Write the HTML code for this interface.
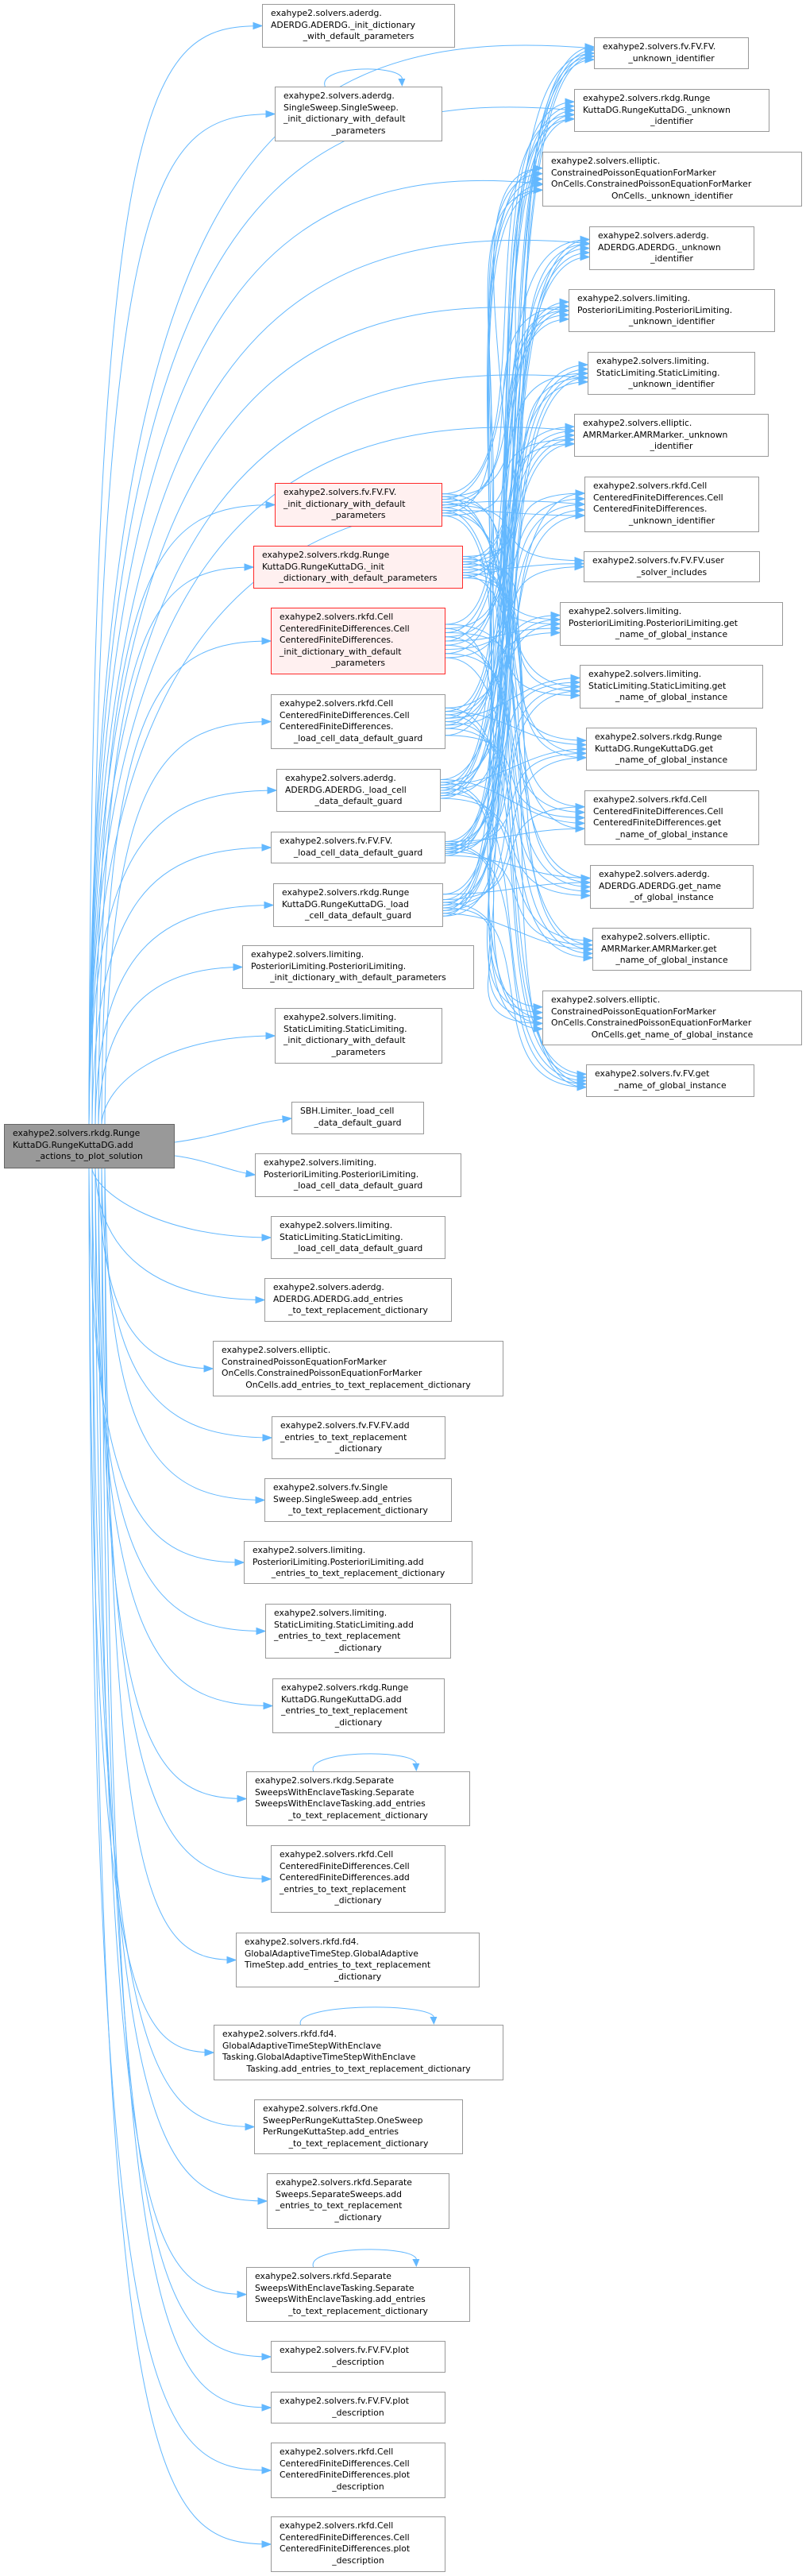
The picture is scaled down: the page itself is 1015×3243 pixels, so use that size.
<!DOCTYPE html>
<html><head><meta charset="utf-8">
<style>
html,body{margin:0;padding:0;background:#fff;}
body{width:1015px;height:3243px;position:relative;overflow:hidden;font-family:"DejaVu Sans","Liberation Sans",sans-serif;}
svg{position:absolute;left:0;top:0;}
.n{position:absolute;box-sizing:border-box;border:1.3px solid #999;background:#fff;font-size:10.8px;line-height:14.6px;color:#000;padding:4px 10px 0 10px;white-space:nowrap;}
.n div{text-align:left;}
.n div:last-child{text-align:center;}
.r{border-color:#ff2a2a;background:#fff0f0;}
.g{background:#999;border-color:#666;}
</style></head><body>
<svg id="s" width="1015" height="3243"></svg>

<div class="n g" style="left:5px;top:1415px;width:215px;height:56px"><div>exahype2.solvers.rkdg.Runge</div><div>KuttaDG.RungeKuttaDG.add</div><div>_actions_to_plot_solution</div></div>

<div class="n" style="left:330px;top:5px;width:243px;height:55px"><div>exahype2.solvers.aderdg.</div><div>ADERDG.ADERDG._init_dictionary</div><div>_with_default_parameters</div></div>
<div class="n" style="left:346px;top:109px;width:211px;height:69px"><div>exahype2.solvers.aderdg.</div><div>SingleSweep.SingleSweep.</div><div>_init_dictionary_with_default</div><div>_parameters</div></div>
<div class="n r" style="left:346px;top:608px;width:211px;height:55px"><div>exahype2.solvers.fv.FV.FV.</div><div>_init_dictionary_with_default</div><div>_parameters</div></div>
<div class="n r" style="left:319px;top:687px;width:264px;height:54px"><div>exahype2.solvers.rkdg.Runge</div><div>KuttaDG.RungeKuttaDG._init</div><div>_dictionary_with_default_parameters</div></div>
<div class="n r" style="left:341px;top:765px;width:220px;height:84px"><div>exahype2.solvers.rkfd.Cell</div><div>CenteredFiniteDifferences.Cell</div><div>CenteredFiniteDifferences.</div><div>_init_dictionary_with_default</div><div>_parameters</div></div>
<div class="n" style="left:341px;top:874px;width:220px;height:69px"><div>exahype2.solvers.rkfd.Cell</div><div>CenteredFiniteDifferences.Cell</div><div>CenteredFiniteDifferences.</div><div>_load_cell_data_default_guard</div></div>
<div class="n" style="left:348px;top:968px;width:207px;height:54px"><div>exahype2.solvers.aderdg.</div><div>ADERDG.ADERDG._load_cell</div><div>_data_default_guard</div></div>
<div class="n" style="left:341px;top:1047px;width:220px;height:40px"><div>exahype2.solvers.fv.FV.FV.</div><div>_load_cell_data_default_guard</div></div>
<div class="n" style="left:344px;top:1112px;width:214px;height:55px"><div>exahype2.solvers.rkdg.Runge</div><div>KuttaDG.RungeKuttaDG._load</div><div>_cell_data_default_guard</div></div>
<div class="n" style="left:305px;top:1190px;width:292px;height:55px"><div>exahype2.solvers.limiting.</div><div>PosterioriLimiting.PosterioriLimiting.</div><div>_init_dictionary_with_default_parameters</div></div>
<div class="n" style="left:346px;top:1269px;width:211px;height:70px"><div>exahype2.solvers.limiting.</div><div>StaticLimiting.StaticLimiting.</div><div>_init_dictionary_with_default</div><div>_parameters</div></div>
<div class="n" style="left:367px;top:1387px;width:167px;height:41px"><div>SBH.Limiter._load_cell</div><div>_data_default_guard</div></div>
<div class="n" style="left:321px;top:1452px;width:260px;height:55px"><div>exahype2.solvers.limiting.</div><div>PosterioriLimiting.PosterioriLimiting.</div><div>_load_cell_data_default_guard</div></div>
<div class="n" style="left:341px;top:1531px;width:220px;height:54px"><div>exahype2.solvers.limiting.</div><div>StaticLimiting.StaticLimiting.</div><div>_load_cell_data_default_guard</div></div>
<div class="n" style="left:333px;top:1609px;width:236px;height:55px"><div>exahype2.solvers.aderdg.</div><div>ADERDG.ADERDG.add_entries</div><div>_to_text_replacement_dictionary</div></div>
<div class="n" style="left:268px;top:1688px;width:366px;height:70px"><div>exahype2.solvers.elliptic.</div><div>ConstrainedPoissonEquationForMarker</div><div>OnCells.ConstrainedPoissonEquationForMarker</div><div>OnCells.add_entries_to_text_replacement_dictionary</div></div>
<div class="n" style="left:342px;top:1783px;width:219px;height:54px"><div>exahype2.solvers.fv.FV.FV.add</div><div>_entries_to_text_replacement</div><div>_dictionary</div></div>
<div class="n" style="left:333px;top:1861px;width:236px;height:55px"><div>exahype2.solvers.fv.Single</div><div>Sweep.SingleSweep.add_entries</div><div>_to_text_replacement_dictionary</div></div>
<div class="n" style="left:307px;top:1940px;width:288px;height:54px"><div>exahype2.solvers.limiting.</div><div>PosterioriLimiting.PosterioriLimiting.add</div><div>_entries_to_text_replacement_dictionary</div></div>
<div class="n" style="left:334px;top:2019px;width:234px;height:69px"><div>exahype2.solvers.limiting.</div><div>StaticLimiting.StaticLimiting.add</div><div>_entries_to_text_replacement</div><div>_dictionary</div></div>
<div class="n" style="left:343px;top:2113px;width:217px;height:69px"><div>exahype2.solvers.rkdg.Runge</div><div>KuttaDG.RungeKuttaDG.add</div><div>_entries_to_text_replacement</div><div>_dictionary</div></div>
<div class="n" style="left:310px;top:2230px;width:282px;height:69px"><div>exahype2.solvers.rkdg.Separate</div><div>SweepsWithEnclaveTasking.Separate</div><div>SweepsWithEnclaveTasking.add_entries</div><div>_to_text_replacement_dictionary</div></div>
<div class="n" style="left:341px;top:2323px;width:220px;height:85px"><div>exahype2.solvers.rkfd.Cell</div><div>CenteredFiniteDifferences.Cell</div><div>CenteredFiniteDifferences.add</div><div>_entries_to_text_replacement</div><div>_dictionary</div></div>
<div class="n" style="left:297px;top:2433px;width:307px;height:69px"><div>exahype2.solvers.rkfd.fd4.</div><div>GlobalAdaptiveTimeStep.GlobalAdaptive</div><div>TimeStep.add_entries_to_text_replacement</div><div>_dictionary</div></div>
<div class="n" style="left:269px;top:2549px;width:365px;height:70px"><div>exahype2.solvers.rkfd.fd4.</div><div>GlobalAdaptiveTimeStepWithEnclave</div><div>Tasking.GlobalAdaptiveTimeStepWithEnclave</div><div>Tasking.add_entries_to_text_replacement_dictionary</div></div>
<div class="n" style="left:320px;top:2643px;width:263px;height:69px"><div>exahype2.solvers.rkfd.One</div><div>SweepPerRungeKuttaStep.OneSweep</div><div>PerRungeKuttaStep.add_entries</div><div>_to_text_replacement_dictionary</div></div>
<div class="n" style="left:336px;top:2736px;width:230px;height:70px"><div>exahype2.solvers.rkfd.Separate</div><div>Sweeps.SeparateSweeps.add</div><div>_entries_to_text_replacement</div><div>_dictionary</div></div>
<div class="n" style="left:310px;top:2854px;width:282px;height:69px"><div>exahype2.solvers.rkfd.Separate</div><div>SweepsWithEnclaveTasking.Separate</div><div>SweepsWithEnclaveTasking.add_entries</div><div>_to_text_replacement_dictionary</div></div>
<div class="n" style="left:341px;top:2947px;width:220px;height:40px"><div>exahype2.solvers.fv.FV.FV.plot</div><div>_description</div></div>
<div class="n" style="left:341px;top:3011px;width:220px;height:40px"><div>exahype2.solvers.fv.FV.FV.plot</div><div>_description</div></div>
<div class="n" style="left:341px;top:3075px;width:220px;height:70px"><div>exahype2.solvers.rkfd.Cell</div><div>CenteredFiniteDifferences.Cell</div><div>CenteredFiniteDifferences.plot</div><div>_description</div></div>
<div class="n" style="left:341px;top:3168px;width:220px;height:70px"><div>exahype2.solvers.rkfd.Cell</div><div>CenteredFiniteDifferences.Cell</div><div>CenteredFiniteDifferences.plot</div><div>_description</div></div>

<div class="n" style="left:748px;top:47px;width:195px;height:40px"><div>exahype2.solvers.fv.FV.FV.</div><div>_unknown_identifier</div></div>
<div class="n" style="left:723px;top:112px;width:246px;height:54px"><div>exahype2.solvers.rkdg.Runge</div><div>KuttaDG.RungeKuttaDG._unknown</div><div>_identifier</div></div>
<div class="n" style="left:683px;top:191px;width:327px;height:69px"><div>exahype2.solvers.elliptic.</div><div>ConstrainedPoissonEquationForMarker</div><div>OnCells.ConstrainedPoissonEquationForMarker</div><div>OnCells._unknown_identifier</div></div>
<div class="n" style="left:742px;top:285px;width:208px;height:55px"><div>exahype2.solvers.aderdg.</div><div>ADERDG.ADERDG._unknown</div><div>_identifier</div></div>
<div class="n" style="left:716px;top:364px;width:260px;height:54px"><div>exahype2.solvers.limiting.</div><div>PosterioriLimiting.PosterioriLimiting.</div><div>_unknown_identifier</div></div>
<div class="n" style="left:740px;top:443px;width:211px;height:54px"><div>exahype2.solvers.limiting.</div><div>StaticLimiting.StaticLimiting.</div><div>_unknown_identifier</div></div>
<div class="n" style="left:723px;top:521px;width:245px;height:54px"><div>exahype2.solvers.elliptic.</div><div>AMRMarker.AMRMarker._unknown</div><div>_identifier</div></div>
<div class="n" style="left:736px;top:600px;width:220px;height:70px"><div>exahype2.solvers.rkfd.Cell</div><div>CenteredFiniteDifferences.Cell</div><div>CenteredFiniteDifferences.</div><div>_unknown_identifier</div></div>
<div class="n" style="left:735px;top:694px;width:222px;height:39px"><div>exahype2.solvers.fv.FV.FV.user</div><div>_solver_includes</div></div>
<div class="n" style="left:705px;top:758px;width:281px;height:55px"><div>exahype2.solvers.limiting.</div><div>PosterioriLimiting.PosterioriLimiting.get</div><div>_name_of_global_instance</div></div>
<div class="n" style="left:730px;top:837px;width:231px;height:55px"><div>exahype2.solvers.limiting.</div><div>StaticLimiting.StaticLimiting.get</div><div>_name_of_global_instance</div></div>
<div class="n" style="left:738px;top:916px;width:215px;height:54px"><div>exahype2.solvers.rkdg.Runge</div><div>KuttaDG.RungeKuttaDG.get</div><div>_name_of_global_instance</div></div>
<div class="n" style="left:736px;top:995px;width:220px;height:69px"><div>exahype2.solvers.rkfd.Cell</div><div>CenteredFiniteDifferences.Cell</div><div>CenteredFiniteDifferences.get</div><div>_name_of_global_instance</div></div>
<div class="n" style="left:743px;top:1089px;width:206px;height:55px"><div>exahype2.solvers.aderdg.</div><div>ADERDG.ADERDG.get_name</div><div>_of_global_instance</div></div>
<div class="n" style="left:746px;top:1168px;width:200px;height:54px"><div>exahype2.solvers.elliptic.</div><div>AMRMarker.AMRMarker.get</div><div>_name_of_global_instance</div></div>
<div class="n" style="left:683px;top:1247px;width:327px;height:69px"><div>exahype2.solvers.elliptic.</div><div>ConstrainedPoissonEquationForMarker</div><div>OnCells.ConstrainedPoissonEquationForMarker</div><div>OnCells.get_name_of_global_instance</div></div>
<div class="n" style="left:738px;top:1340px;width:212px;height:41px"><div>exahype2.solvers.fv.FV.get</div><div>_name_of_global_instance</div></div>

<script>
var L=[[330,5,573,60],[346,109,557,178,1],[346,608,557,663],[319,687,583,741],[341,765,561,849],[341,874,561,943],[348,968,555,1022],[341,1047,561,1087],[344,1112,558,1167],[305,1190,597,1245],[346,1269,557,1339],[367,1387,534,1428,1],[321,1452,581,1507],[341,1531,561,1585],[333,1609,569,1664],[268,1688,634,1758],[342,1783,561,1837],[333,1861,569,1916],[307,1940,595,1994],[334,2019,568,2088],[343,2113,560,2182],[310,2230,592,2299,1],[341,2323,561,2408],[297,2433,604,2502],[269,2549,634,2619,1],[320,2643,583,2712],[336,2736,566,2806],[310,2854,592,2923,1],[341,2947,561,2987],[341,3011,561,3051],[341,3075,561,3145],[341,3168,561,3238]];
var R=[[748,47,943,87],[723,112,969,166],[683,191,1010,260],[742,285,950,340],[716,364,976,418],[740,443,951,497],[723,521,968,575],[736,600,956,670],[735,694,957,733]];
var G=[[705,758,986,813],[730,837,961,892],[738,916,953,970],[736,995,956,1064],[743,1089,949,1144],[746,1168,946,1222],[683,1247,1010,1316],[738,1340,950,1381]];
var C="#63b8ff",out="";
function edge(sx,sy,c1x,c1y,c2x,c2y,tx,ty){
  out+='<path d="M'+sx+','+sy+' C'+c1x+','+c1y+' '+c2x+','+c2y+' '+tx+','+ty+'" fill="none" stroke="'+C+'" stroke-width="1"/>';
  var dx=tx-c2x,dy=ty-c2y,l=Math.sqrt(dx*dx+dy*dy)||1;dx/=l;dy/=l;
  var bx=tx-dx*11,by=ty-dy*11,px=-dy*4,py=dx*4;
  out+='<polygon points="'+tx+','+ty+' '+(bx+px)+','+(by+py)+' '+(bx-px)+','+(by-py)+'" fill="'+C+'" stroke="'+C+'"/>';
}
// main edges to left column
L.forEach(function(n,i){
  var ty=(n[1]+n[3])/2,tx=n[0];
  var up=ty<1415, sy=up?1415:1471, sx=112+ (i%6)*4;
  if(i==11){edge(220,1438,280,1430,320,1412,tx,1408);return;}
  if(i==12){edge(220,1455,260,1460,290,1475,tx,1479);return;}
  var mid=sx+(tx-sx)*0.35;
  edge(sx,sy,sx+3,ty+(up?60:-60),mid,ty,tx,ty);
  if(n[4]){var w=n[2]-n[0],a=n[0]+w*0.3,b=n[0]+w*0.76;
    out+='<path d="M'+a+','+n[1]+' C'+(a-10)+','+(n[1]-28)+' '+(b+5)+','+(n[1]-28)+' '+b+','+(n[1]-8)+'" fill="none" stroke="'+C+'"/>';
    out+='<polygon points="'+b+','+n[1]+' '+(b-5)+','+(n[1]-10)+' '+(b+4)+','+(n[1]-10)+'" fill="'+C+'"/>';}
});
// main edges to right unknown nodes
for(var i=0;i<8;i++){var n=R[i],ty=(n[1]+n[3])/2+ (i%3-1)*6;
  edge(112,1415,115,ty+200,300,ty-40,n[0],ty);}
// middle nodes to right
for(var m=2;m<=8;m++){var s=L[m],sx=s[2],sy0=s[1],h=s[3]-s[1];
  var targets=R.concat(G);
  targets.forEach(function(t,j){
    if(m>4 && j==8) return;
    var sy=sy0+h*(0.25+0.5*((j*7+m)%9)/8);
    var ty=t[1]+(t[3]-t[1])*(0.3+0.4*((j+m)%5)/4);
    var tx=t[0];
    if(Math.abs(ty-sy)<60) edge(sx,sy,sx+80,sy,tx-80,ty,tx,ty);
    else edge(sx,sy,sx+140,sy,tx-150,ty,tx,ty);
  });
}
document.getElementById('s').innerHTML=out;
</script>
</body></html>
